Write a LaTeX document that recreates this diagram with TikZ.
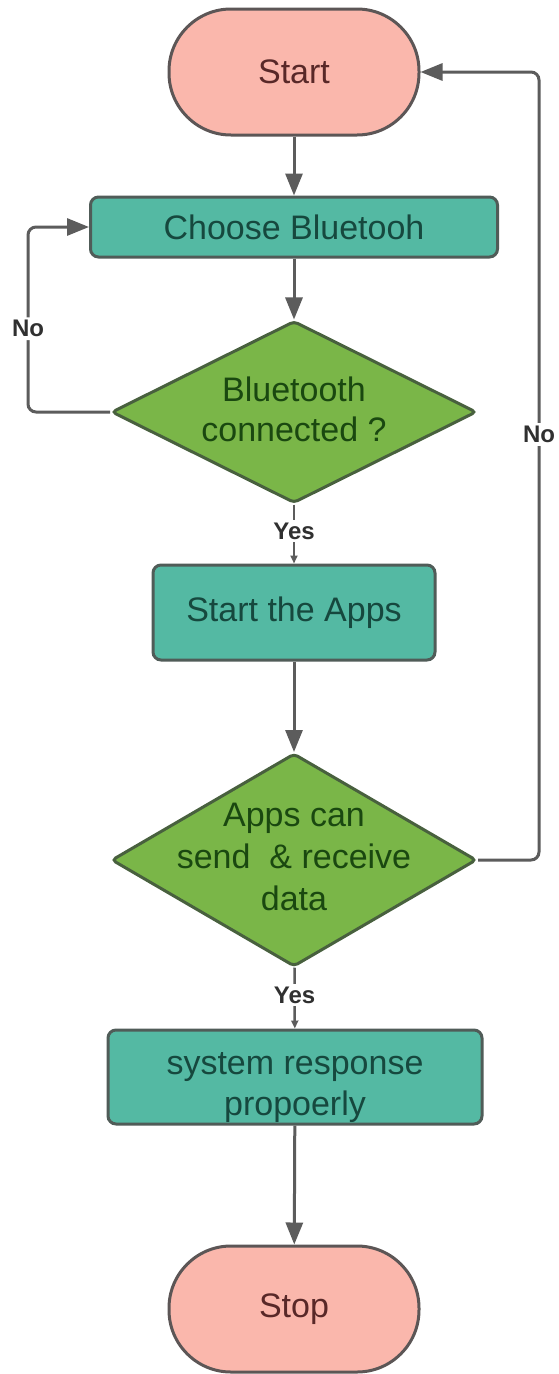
\documentclass[tikz,border=0pt]{standalone}
\usepackage{fontspec}
\setmainfont{Liberation Sans}
\usetikzlibrary{shapes.geometric,arrows.meta}
\definecolor{pinkfill}{RGB}{250,183,172}
\definecolor{termline}{RGB}{92,86,86}
\definecolor{termtext}{RGB}{88,40,40}
\definecolor{tealfill}{RGB}{84,185,163}
\definecolor{procline}{RGB}{80,92,88}
\definecolor{tealtext}{RGB}{22,72,62}
\definecolor{greenfill}{RGB}{122,182,72}
\definecolor{greenline}{RGB}{72,96,62}
\definecolor{greentext}{RGB}{26,72,16}
\definecolor{linegray}{RGB}{92,92,92}
\definecolor{lblgray}{RGB}{48,48,48}
\begin{document}
\begin{tikzpicture}[x=1pt,y=-1pt,
  term/.style={draw=termline, fill=pinkfill, line width=3pt, rounded corners=62pt,
    minimum width=250pt, minimum height=126pt, inner sep=0pt, text=termtext,
    font=\fontsize{34}{40}\selectfont},
  proc/.style={draw=procline, fill=tealfill, line width=3pt, rounded corners=8pt,
    inner sep=0pt, text=tealtext, align=center, font=\fontsize{34}{41}\selectfont},
  decision/.style={diamond, aspect=2, draw=greenline, fill=greenfill, line width=3pt,
    rounded corners=4pt, inner sep=0pt},
  dtext/.style={text=greentext, align=center, inner sep=0pt},
  ptext/.style={text=tealtext, align=center, inner sep=0pt, font=\fontsize{34}{41}\selectfont},
  flow/.style={draw=linegray, line width=3pt, -{Triangle[length=22pt,width=17pt]}},
  smallflow/.style={draw=linegray, line width=2.5pt, -{Triangle[length=8pt,width=7pt]}},
  lbl/.style={fill=white, font=\bfseries\fontsize{24}{26}\selectfont, text=lblgray, inner sep=3pt}
]
\useasboundingbox[fill=white] (0,0) rectangle (558,1374);

\node[term] (start) at (294,72) {Start};
\node[proc, minimum width=407pt, minimum height=60pt] (choose) at (294,227) {Choose Bluetooh};
\node[decision, minimum width=365pt, minimum height=182pt] (d1) at (294,412) {};
\node[dtext, font=\fontsize{34}{40}\selectfont] (d1t) at (294,409) {Bluetooth\\connected ?};
\node[proc, minimum width=282pt, minimum height=95pt] (apps) at (294,612.5) {Start the Apps};
\node[decision, minimum width=365pt, minimum height=213pt] (d2) at (294,860) {};
\node[dtext, font=\fontsize{34}{42}\selectfont] (d2t) at (294,857) {Apps can\\send \ \& receive\\data};
\node[proc, minimum width=374pt, minimum height=94pt] (sys) at (295,1077) {};
\node[ptext] (syst) at (295,1088) {system response\\propoerly};
\node[term] (stop) at (294,1309) {Stop};

\coordinate (lx) at (28,0);
\coordinate (rx) at (539,0);

\draw[flow] (start) -- (choose);
\draw[flow] (choose) -- (d1);
\draw[smallflow] (d1) -- node[lbl, pos=0.45]{Yes} (apps);
\draw[flow] (apps) -- (d2);
\draw[smallflow] (d2) -- node[lbl, pos=0.45]{Yes} (sys);
\draw[flow] (sys) -- (stop);

\draw[flow, rounded corners=8pt] (d1.west) -- (d1.west -| lx) -- node[lbl, pos=0.45]{No} (choose.west -| lx) -- (choose.west);
\draw[flow, rounded corners=8pt] (d2.east) -- (d2.east -| rx) -- node[lbl, pos=0.54]{No} (start.east -| rx) -- (start.east);
\end{tikzpicture}
\end{document}
